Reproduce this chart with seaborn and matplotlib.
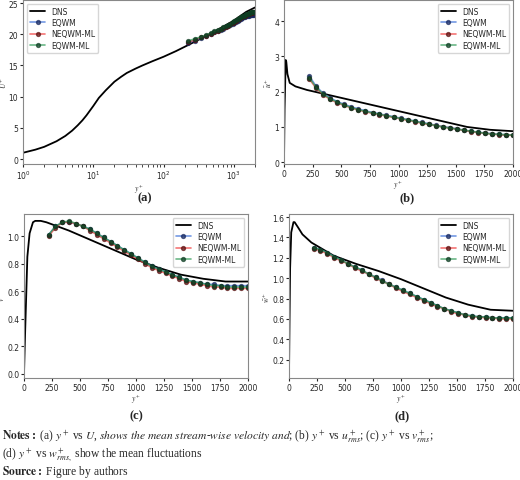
import numpy as np
import matplotlib
matplotlib.use('Agg')
import matplotlib.pyplot as plt
import seaborn as sns

sns.set_style('ticks')
plt.rcParams['font.family'] = ['DejaVu Sans']
plt.rcParams['mathtext.fontset'] = 'stix'

LABELS = ['EQWM', 'NEQWM-ML', 'EQWM-ML']
LINE_COLORS = ['#3b6fd8', '#f03c3c', '#2e9a55']
MARK_COLORS = ['#16275e', '#5a0d0d', '#0d3d22']

# model sample locations (y+)
y_model = [220, 281, 343, 404, 466, 527, 588, 650, 711, 773, 834, 895, 957, 1018, 1080,
           1141, 1202, 1264, 1325, 1387, 1448, 1509, 1571, 1632, 1694, 1755, 1816, 1878, 1939, 2000]

# (a) mean velocity
a_dns_y = [1, 1.5, 2, 3, 4, 5, 6, 7, 8, 10, 12, 15, 20, 25, 30, 40, 50, 70, 100, 150, 200, 300, 500,
           700, 1000, 1500, 2000]
a_dns_u = [1.0, 1.5, 1.95, 2.85, 3.7, 4.55, 5.4, 6.2, 7.0, 8.5, 9.8, 11.0, 12.4, 13.2, 13.8, 14.5,
           15.0, 15.7, 16.4, 17.3, 18.0, 19.0, 20.3, 21.2, 22.2, 23.6, 24.3]
a_eqwm = [18.6, 19.0, 19.4, 19.7, 20.0, 20.3, 20.5, 20.7, 20.9, 21.1, 21.3, 21.5, 21.7, 21.8, 22.0,
          22.2, 22.3, 22.5, 22.6, 22.7, 22.8, 22.9, 22.95, 23.0, 23.05, 23.1, 23.1, 23.15, 23.15, 23.2]
a_neqwm = [18.7, 19.1, 19.5, 19.8, 20.1, 20.4, 20.6, 20.8, 21.0, 21.2, 21.4, 21.6, 21.8, 22.0, 22.2,
           22.4, 22.5, 22.7, 22.8, 22.9, 23.0, 23.1, 23.2, 23.3, 23.35, 23.4, 23.45, 23.5, 23.5, 23.5]
a_eqwm_ml = [18.9, 19.3, 19.6, 19.9, 20.2, 20.5, 20.7, 20.9, 21.1, 21.3, 21.5, 21.7, 21.9, 22.1, 22.3,
             22.5, 22.6, 22.8, 22.9, 23.0, 23.1, 23.2, 23.3, 23.4, 23.45, 23.5, 23.55, 23.6, 23.6, 23.6]

# (b) u_rms
b_dns_y = [0, 5, 15, 20, 30, 50, 100, 200, 400, 600, 800, 1000, 1200, 1400, 1600, 1800, 2000]
b_dns_v = [0, 1.5, 2.9, 2.85, 2.5, 2.25, 2.15, 2.05, 1.9, 1.75, 1.6, 1.45, 1.3, 1.15, 1.0, 0.92, 0.88]
b_eqwm = [2.45, 2.15, 1.95, 1.82, 1.72, 1.64, 1.57, 1.51, 1.46, 1.41, 1.37, 1.33, 1.29, 1.25, 1.21,
          1.17, 1.13, 1.09, 1.05, 1.01, 0.98, 0.95, 0.91, 0.88, 0.85, 0.83, 0.81, 0.79, 0.78, 0.77]
b_neqwm = [2.36, 2.10, 1.91, 1.78, 1.68, 1.61, 1.54, 1.48, 1.43, 1.39, 1.35, 1.31, 1.27, 1.23, 1.19,
           1.15, 1.11, 1.07, 1.04, 1.00, 0.97, 0.94, 0.90, 0.87, 0.84, 0.82, 0.80, 0.78, 0.77, 0.76]
b_eqwm_ml = [2.40, 2.12, 1.93, 1.80, 1.70, 1.62, 1.55, 1.49, 1.44, 1.40, 1.36, 1.32, 1.28, 1.24, 1.20,
             1.16, 1.12, 1.08, 1.04, 1.00, 0.97, 0.94, 0.91, 0.88, 0.85, 0.82, 0.80, 0.79, 0.78, 0.77]

# (c) v_rms
c_dns_y = [0, 10, 30, 50, 80, 100, 150, 200, 300, 400, 600, 800, 1000, 1200, 1400, 1600, 1800, 2000]
c_dns_v = [0, 0.3, 0.85, 1.02, 1.1, 1.11, 1.11, 1.1, 1.07, 1.04, 0.97, 0.9, 0.83, 0.77, 0.72, 0.69, 0.67, 0.67]
c_eqwm = [1.01, 1.07, 1.10, 1.10, 1.09, 1.07, 1.05, 1.02, 0.99, 0.96, 0.93, 0.90, 0.87, 0.84, 0.81,
          0.78, 0.76, 0.74, 0.72, 0.70, 0.68, 0.67, 0.66, 0.65, 0.65, 0.64, 0.64, 0.64, 0.64, 0.64]
c_neqwm = [1.00, 1.06, 1.10, 1.10, 1.09, 1.07, 1.04, 1.01, 0.98, 0.95, 0.92, 0.89, 0.86, 0.83, 0.80,
           0.77, 0.75, 0.73, 0.71, 0.69, 0.67, 0.66, 0.65, 0.64, 0.63, 0.63, 0.62, 0.62, 0.62, 0.62]
c_eqwm_ml = [1.01, 1.07, 1.10, 1.11, 1.09, 1.07, 1.05, 1.02, 0.99, 0.96, 0.93, 0.90, 0.87, 0.84, 0.81,
             0.78, 0.76, 0.74, 0.72, 0.70, 0.68, 0.67, 0.66, 0.65, 0.64, 0.64, 0.63, 0.63, 0.63, 0.63]

# (d) w_rms
d_dns_y = [0, 5, 10, 20, 40, 50, 80, 120, 200, 400, 600, 800, 1000, 1200, 1400, 1600, 1800, 2000]
d_dns_v = [0.05, 0.6, 1.1, 1.45, 1.55, 1.55, 1.5, 1.43, 1.35, 1.22, 1.14, 1.07, 0.99, 0.9, 0.81, 0.74, 0.69, 0.68]
d_eqwm = [1.30, 1.28, 1.25, 1.21, 1.18, 1.14, 1.11, 1.08, 1.04, 1.01, 0.98, 0.94, 0.91, 0.88, 0.85,
          0.82, 0.79, 0.76, 0.73, 0.70, 0.68, 0.66, 0.64, 0.63, 0.62, 0.62, 0.61, 0.61, 0.61, 0.61]
d_neqwm = [1.29, 1.27, 1.24, 1.20, 1.17, 1.14, 1.10, 1.07, 1.04, 1.00, 0.97, 0.94, 0.90, 0.87, 0.84,
           0.81, 0.78, 0.75, 0.72, 0.70, 0.67, 0.65, 0.64, 0.62, 0.62, 0.61, 0.61, 0.60, 0.60, 0.60]
d_eqwm_ml = [1.30, 1.28, 1.25, 1.21, 1.18, 1.14, 1.11, 1.08, 1.04, 1.01, 0.97, 0.94, 0.91, 0.88, 0.85,
             0.82, 0.79, 0.76, 0.73, 0.70, 0.68, 0.66, 0.64, 0.63, 0.62, 0.62, 0.61, 0.61, 0.61, 0.61]

W, H = 520, 481
fig = plt.figure(figsize=(5.2, 4.81), dpi=100)


def add_ax(l, r, t, b):
    return fig.add_axes([l / W, 1 - b / H, (r - l) / W, (b - t) / H])


def panel(ax, dns_y, dns_v, models, ylabel, legend_loc):
    sns.lineplot(x=dns_y, y=dns_v, ax=ax, color='black', lw=1.3, label='DNS')
    for vals, lc, mc, lab in zip(models, LINE_COLORS, MARK_COLORS, LABELS):
        ax.plot(y_model, vals, color=lc, lw=1.2, alpha=0.7, marker='o', ms=2.8,
                mfc=mc, mec=mc, label=lab)
    ax.set_xlabel('$y^+$', fontsize=5.5, labelpad=0)
    ax.set_ylabel(ylabel, fontsize=5.5, labelpad=0)
    ax.tick_params(labelsize=5.5, length=2, pad=1.5)
    ax.legend(loc=legend_loc, fontsize=5.5, frameon=True, handlelength=2, borderpad=0.4,
              labelspacing=0.3)
    for s in ax.spines.values():
        s.set_color('#888888')
        s.set_linewidth(0.8)


ax = add_ax(23, 255, 1, 165)
panel(ax, a_dns_y, a_dns_u, [a_eqwm, a_neqwm, a_eqwm_ml], r'$\bar{U}^+$', 'upper left')
ax.set_xscale('log')
ax.set_xlim(1, 2000)
ax.set_ylim(-0.8, 25.5)
ax.set_yticks([0, 5, 10, 15, 20, 25])

ax = add_ax(284, 513, 1, 165)
panel(ax, b_dns_y, b_dns_v, [b_eqwm, b_neqwm, b_eqwm_ml], r'$\bar{u}^+$', 'upper right')
ax.set_xlim(0, 2000)
ax.set_ylim(-0.05, 4.6)
ax.set_yticks([0, 1, 2, 3, 4])
ax.set_xticks(range(0, 2001, 250))

ax = add_ax(24, 248, 215, 379)
panel(ax, c_dns_y, c_dns_v, [c_eqwm, c_neqwm, c_eqwm_ml], r'$\bar{v}^+$', 'upper right')
ax.set_xlim(0, 2000)
ax.set_ylim(-0.03, 1.16)
ax.set_xticks(range(0, 2001, 250))

ax = add_ax(289, 513, 215, 379)
panel(ax, d_dns_y, d_dns_v, [d_eqwm, d_neqwm, d_eqwm_ml], r'$\bar{w}^+$', 'upper right')
ax.set_xlim(0, 2000)
ax.set_ylim(0.02, 1.63)
ax.set_xticks(range(0, 2001, 250))

serif = 'Liberation Serif'
for x, y, t in [(145, 198, '(a)'), (407, 198, '(b)'), (136, 416, '(c)'), (402, 416, '(d)')]:
    fig.text(x / W, 1 - y / H, t, ha='center', va='center', fontsize=9, fontweight='bold', family=serif)

fig.text(2 / W, 1 - 437 / H, r'$\mathbf{Notes:}$ (a) $y^+$ vs $U$, $\it{shows\ the\ mean\ stream}$-$\it{wise\ velocity\ and}$; '
         r'(b) $y^+$ vs $u^+_{rms}$; (c) $y^+$ vs $v^+_{rms}$;', fontsize=8.3, family=serif, va='center')
fig.text(2 / W, 1 - 455 / H, r'(d) $y^+$ vs $w^+_{rms,}$ show the mean fluctuations', fontsize=8.3,
         family=serif, va='center')
fig.text(2 / W, 1 - 472 / H, r'$\mathbf{Source:}$ Figure by authors', fontsize=8.3, family=serif, va='center')

fig.savefig('out.png', dpi=100)
